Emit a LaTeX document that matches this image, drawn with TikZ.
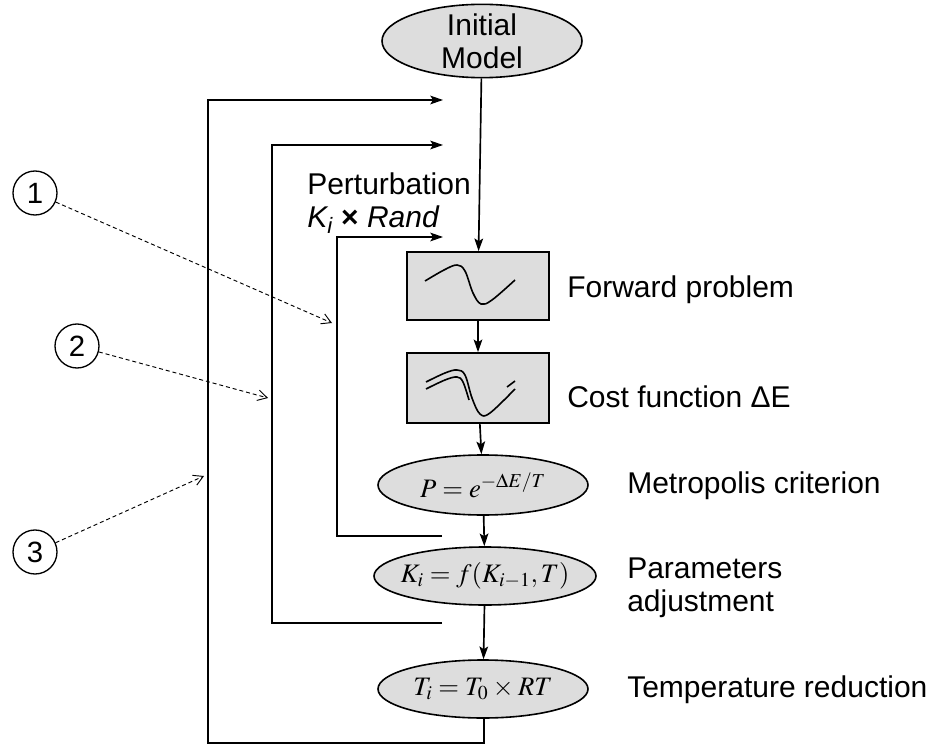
\documentclass[tikz,border=0pt]{standalone}
\usepackage{mathptmx}
\usepackage[no-math]{fontspec}
\setmainfont{Liberation Sans}
\usetikzlibrary{arrows.meta,shapes.geometric,calc}
\definecolor{Shade}{RGB}{221,221,221}
\newcommand{\tightmath}{\medmuskip=3mu\relax\thickmuskip=4mu\relax}
\tikzset{
  stage/.style={ellipse,draw=black,line width=1.2pt,fill=Shade,inner sep=0pt},
  stepbox/.style={rectangle,draw=black,line width=1.2pt,fill=Shade,inner sep=0pt,minimum width=106.5pt},
  flowpath/.style={-{Stealth[length=9.5pt,width=6.5pt,inset=2pt]},line width=1.25pt},
  notepath/.style={-{Straight Barb[length=7pt,width=8pt]},line width=0.7pt,dash pattern=on 3pt off 2.2pt},
  callout/.style={circle,draw=black,line width=1pt,minimum size=33pt,inner sep=0pt,font=\fontsize{22}{25}\selectfont},
  annot/.style={anchor=west,inner sep=0pt,align=left,font=\fontsize{22.5}{25}\selectfont},
  mathtext/.style={inner sep=0pt,font=\fontsize{20}{24}\selectfont},
  wave/.style={line width=1.2pt}
}
\begin{document}
\begin{tikzpicture}[x=0.75pt,y=-0.75pt]
\useasboundingbox (0,0) rectangle (931,745);
% main chain
\node[stage,minimum width=150pt,minimum height=55pt](init) at (482,41){};
\node[annot,anchor=center,align=center](init-t) at (init){Initial\\Model};
\node[stepbox,minimum height=51pt](fwd) at (478,286){};
\node[stepbox,minimum height=52.5pt](cost) at (478,388){};
\node[stage,minimum width=157.5pt,minimum height=45pt](metro) at (483,485){};
\node[mathtext](metro-t) at (metro){$\tightmath P = e^{-\Delta E/T}$};
\node[stage,minimum width=166.5pt,minimum height=43.5pt](adjust) at (485,576){};
\node[mathtext](adjust-t) at (adjust){$\tightmath K_i = f(K_{i-1},T)$};
\node[stage,minimum width=157.5pt,minimum height=43.5pt](tred) at (483,689){};
\node[mathtext](tred-t) at (tred){$\tightmath T_i = T_0 \times RT$};
% curves in the boxes
\draw[wave] plot[smooth,tension=0.6] coordinates {(425,281) (444,270) (457,265) (465,271) (473,293) (481,304) (492,300) (515,280)};
\draw[wave] plot[smooth,tension=0.6] coordinates {(426,382) (445,373) (457,370) (465,375) (472,398) (480,414) (490,413) (515,389)};
\draw[wave] plot[smooth,tension=0.6] coordinates {(426,389) (445,380) (457,377) (463,382) (469,400)};
\draw[wave] (507,387) -- (515,381);
% labels
\node[annot](pert) at (307,203){Perturbation\\\textit{K\textsubscript{i}} \textbf{×} \textit{Rand}};
\node[annot](fwd-l) at (567,290){Forward problem};
\node[annot](cost-l) at (567,397){Cost function ΔE};
\node[annot](metro-l) at (627,486){Metropolis criterion};
\node[annot](adjust-l) at (627,588){Parameters\\adjustment};
\node[annot](tred-l) at (627,690){Temperature reduction};
% forward arrows
\draw[flowpath](init)--(fwd);
\draw[flowpath](fwd)--(cost);
\draw[flowpath](cost)--(metro);
\draw[flowpath](metro)--(adjust);
\draw[flowpath](adjust)--(tred);
% feedback loops
\coordinate (m1) at (442,536);
\coordinate (a1) at (443,237);
\coordinate (lx1) at (337,0);
\coordinate (m2) at (442,623);
\coordinate (a2) at (443,145);
\coordinate (lx2) at (272,0);
\coordinate (m3) at (484,743);
\coordinate (a3) at (443,100);
\coordinate (lx3) at (208,0);
\draw[flowpath](m1)-|(lx1|-a1)--(a1);
\draw[flowpath](m2)-|(lx2|-a2)--(a2);
\draw[flowpath](tred.south-|m3)--(m3)-|(lx3|-a3)--(a3);
% numbered callouts
\node[callout](c1) at (35,193){1};
\node[callout](c2) at (77,346){2};
\node[callout](c3) at (35,552){3};
\coordinate (t1) at (332,323);
\coordinate (t2) at (268,398);
\coordinate (t3) at (204,476);
\draw[notepath](c1)--(t1);
\draw[notepath](c2)--(t2);
\draw[notepath](c3)--(t3);
\end{tikzpicture}
\end{document}
